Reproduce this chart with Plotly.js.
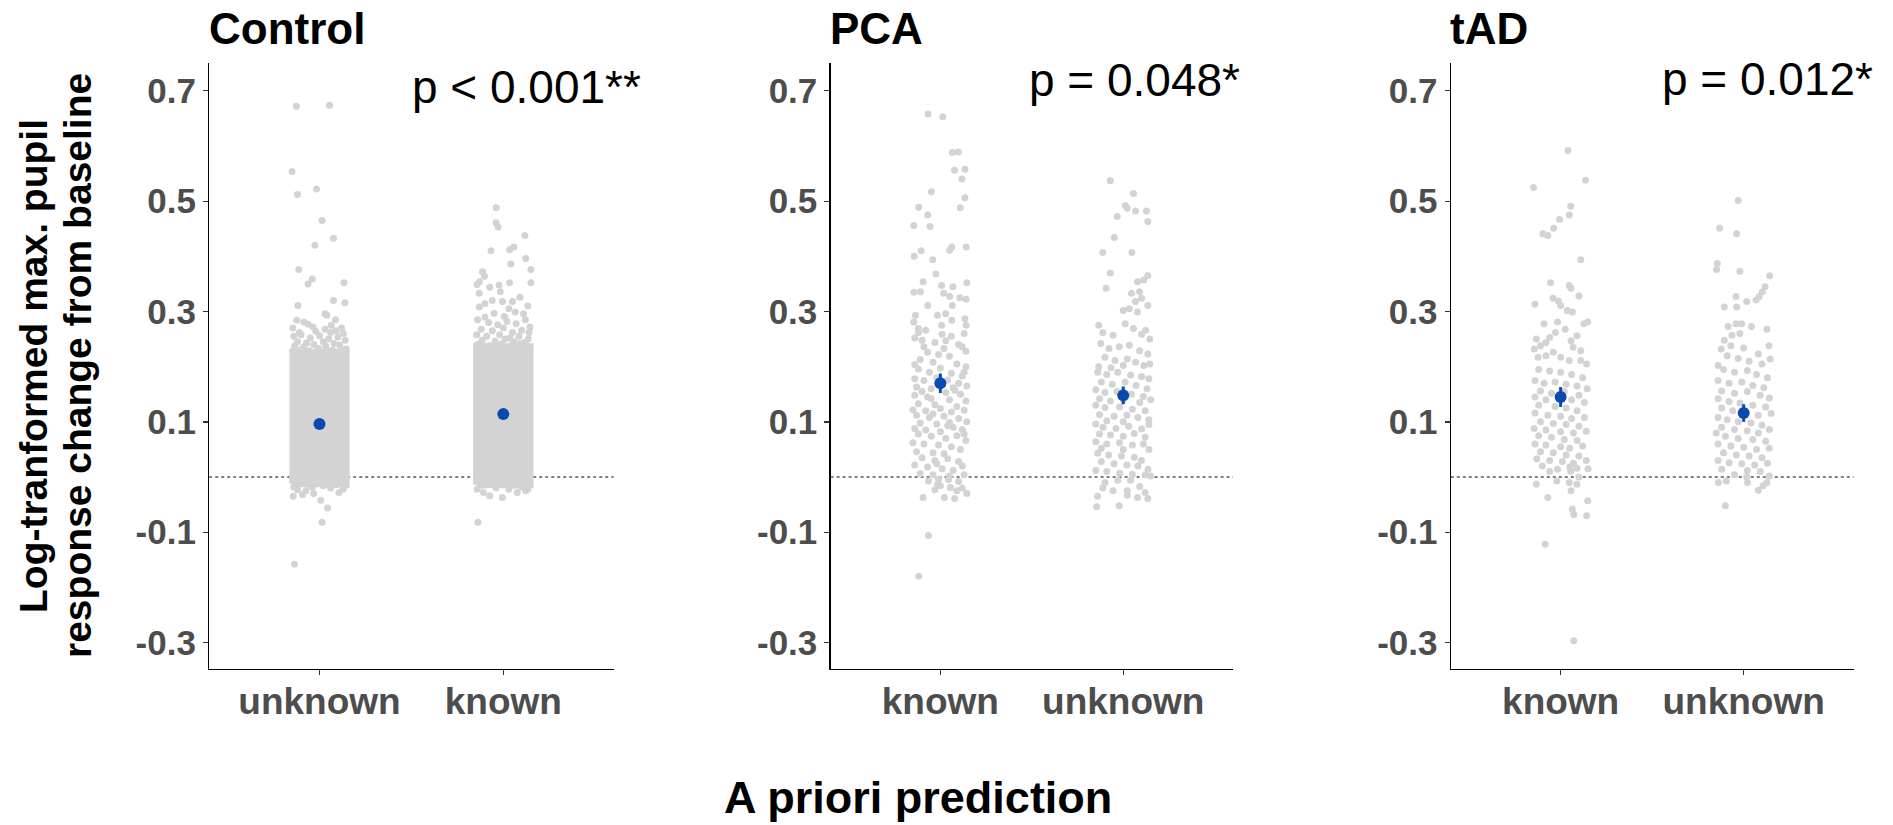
<!DOCTYPE html>
<html>
<head>
<meta charset="utf-8">
<script src="https://cdn.plot.ly/plotly-3.0.1.min.js"></script>
<style>
html,body{margin:0;padding:0;background:#fff;overflow:hidden;}
#chart{width:1893px;height:825px;}
</style>
</head>
<body>
<div id="chart"></div>
<script>
// ---------- DATA ----------
const panelTitles = ['Control', 'PCA', 'tAD'];
const pLabels = ['p < 0.001**', 'p = 0.048*', 'p = 0.012*'];
const controlCategories = ['unknown', 'known'];
const pcaCategories = ['known', 'unknown'];
const tadCategories = ['known', 'unknown'];
const yTickVals = [-0.3, -0.1, 0.1, 0.3, 0.5, 0.7];
const yTickText = ['-0.3', '-0.1', '0.1', '0.3', '0.5', '0.7'];
const xAxisTitle = 'A priori prediction';
const yAxisTitleLines = ['Log-tranformed max. pupil', 'response change from baseline'];

// group means and standard errors (order follows the category arrays)
const controlMeans = [0.096, 0.114];
const controlSE = [0.004, 0.004];
const pcaMeans = [0.170, 0.148];
const pcaSE = [0.0175, 0.016];
const tadMeans = [0.145, 0.116];
const tadSE = [0.018, 0.016];

// Control groups are so dense that the central mass is a solid band
const controlCoreLow = [-0.012, -0.014];
const controlCoreHigh = [0.226, 0.236];
const controlCoreJitter = 0.145;

// individual points: [jitter offset, value]
const controlUnknownPts = [[-0.126,0.672],[0.055,0.674],[-0.149,0.554],[-0.12,0.512],[-0.016,0.522],[0.014,0.465],[0.076,0.433],[-0.025,0.42],[-0.113,0.376],[-0.039,0.359],[-0.062,0.35],[0.133,0.352],[0.076,0.32],[0.138,0.316],[-0.117,0.311],[0.04,0.293],[0.03,0.296],[-0.124,0.284],[-0.085,0.281],[-0.062,0.277],[0.087,0.285],[0.064,0.275],[-0.145,0.27],[0.03,0.268],[0.12,0.27],[-0.02,0.264],[-0.14,0.255],[-0.1,0.258],[-0.05,0.252],[0.0,0.256],[0.05,0.25],[0.1,0.254],[0.14,0.248],[-0.12,0.245],[-0.07,0.243],[0.08,0.242],[0.13,0.26],[0.02,0.245],[-0.135,0.238],[-0.085,0.236],[-0.03,0.24],[0.035,0.237],[0.11,0.239],[0.145,0.232],[-0.11,0.262],[0.06,0.262],[-0.145,0.228],[-0.1,0.231],[-0.055,0.229],[-0.005,0.233],[0.07,0.23],[0.125,0.228],[0.09,0.265],[-0.035,0.272],[-0.143,-0.035],[-0.092,-0.032],[-0.032,-0.03],[0.007,-0.042],[0.044,-0.056],[0.014,-0.082],[-0.136,-0.158],[0.106,-0.028],[0.129,-0.022],[-0.074,-0.025],[-0.12,-0.023],[-0.04,-0.018],[0.06,-0.02],[0.145,-0.015],[-0.14,-0.018],[0.09,-0.014],[-0.1,-0.012],[0.02,-0.016]];
const controlKnownPts = [[-0.039,0.488],[-0.039,0.461],[-0.028,0.453],[0.117,0.438],[0.057,0.417],[0.034,0.412],[-0.067,0.41],[0.122,0.396],[0.041,0.386],[0.15,0.376],[-0.113,0.372],[-0.103,0.364],[-0.143,0.349],[-0.13,0.354],[-0.023,0.348],[0.034,0.352],[0.15,0.352],[-0.074,0.344],[-0.131,0.333],[-0.016,0.336],[-0.06,0.32],[-0.005,0.318],[0.05,0.318],[0.09,0.326],[0.133,0.31],[-0.131,0.308],[-0.1,0.314],[0.03,0.305],[0.065,0.299],[0.11,0.296],[-0.05,0.297],[-0.1,0.29],[0.006,0.291],[-0.14,0.285],[-0.08,0.28],[-0.03,0.276],[0.02,0.282],[0.07,0.278],[0.12,0.285],[0.145,0.272],[-0.12,0.268],[-0.06,0.265],[0.0,0.27],[0.05,0.262],[0.1,0.266],[-0.145,0.258],[-0.09,0.255],[-0.02,0.258],[0.035,0.252],[0.085,0.255],[0.135,0.25],[0.14,0.262],[-0.115,0.248],[-0.045,0.246],[0.01,0.25],[0.06,0.245],[0.115,0.244],[-0.14,0.24],[-0.075,0.238],[-0.01,0.241],[0.045,0.239],[0.095,0.242],[0.145,0.236],[-0.138,-0.082],[-0.143,-0.022],[-0.108,-0.028],[-0.074,-0.034],[-0.005,-0.037],[0.076,-0.028],[0.134,-0.022],[0.122,-0.025],[-0.04,-0.02],[0.03,-0.022],[0.1,-0.018],[-0.12,-0.015],[0.06,-0.015],[0.145,-0.012]];
const pcaKnownPts = [[-0.067,0.658],[0.013,0.653],[0.065,0.588],[0.098,0.589],[0.078,0.556],[0.134,0.558],[0.118,0.54],[-0.049,0.517],[0.134,0.506],[-0.118,0.489],[0.109,0.488],[-0.069,0.475],[-0.145,0.456],[-0.056,0.454],[0.141,0.417],[0.063,0.417],[0.051,0.411],[-0.105,0.41],[-0.143,0.4],[-0.042,0.394],[-0.025,0.368],[0.145,0.352],[0.069,0.345],[0.007,0.347],[-0.094,0.354],[-0.145,0.335],[-0.109,0.336],[0.018,0.333],[0.051,0.327],[0.107,0.325],[0.141,0.322],[-0.069,0.311],[-0.016,0.293],[0.029,0.296],[0.065,0.311],[-0.136,0.293],[-0.145,0.281],[-0.12,0.269],[0.134,0.287],[0.141,0.275],[0.007,0.275],[0.063,0.284],
[-0.12,0.262],[-0.08,0.266],[0.01,0.259],[0.06,0.255],[0.13,0.26],[-0.1,0.248],[-0.03,0.244],[0.03,0.247],[0.1,0.24],[-0.14,0.252],[0.14,0.228],[-0.07,0.226],[-0.01,0.222],[0.05,0.219],[-0.11,0.213],[-0.04,0.208],[0.09,0.205],[0.14,0.2],[-0.14,0.204],[0.02,0.233],[0.12,0.236],[-0.09,0.236],
[-0.12,0.196],[-0.06,0.19],[0.0,0.197],[0.06,0.188],[0.12,0.183],[-0.14,0.178],[-0.09,0.175],[-0.02,0.18],[0.04,0.176],[0.1,0.17],[0.145,0.165],[-0.13,0.163],[-0.05,0.16],[0.07,0.162],[0.13,0.19],
[-0.1,0.155],[-0.14,0.148],[0.03,0.153],[0.11,0.15],[-0.07,0.145],[0.05,0.14],[0.14,0.138],[-0.12,0.133],[-0.03,0.131],[0.09,0.128],[-0.15,0.122],[-0.08,0.12],[0.0,0.124],[0.06,0.118],[0.13,0.121],[-0.05,0.142],[0.08,0.157],
[-0.13,0.112],[-0.06,0.108],[0.02,0.11],[0.1,0.106],[0.145,0.1],[-0.11,0.098],[-0.02,0.096],[0.05,0.099],[-0.14,0.088],[-0.08,0.085],[0.0,0.082],[0.07,0.09],[0.12,0.086],[-0.04,0.114],[0.04,0.093],
[-0.12,0.078],[-0.05,0.074],[0.03,0.07],[0.09,0.075],[0.14,0.066],[-0.15,0.062],[-0.09,0.06],[-0.01,0.058],[0.06,0.055],[0.11,0.05],[-0.13,0.046],[-0.04,0.044],[0.02,0.042],[0.13,0.078],
[-0.1,0.035],[-0.03,0.03],[0.04,0.033],[0.1,0.028],[-0.14,0.022],[-0.07,0.018],[0.01,0.015],[0.07,0.012],[0.12,0.02],[-0.11,0.006],[-0.04,0.004],[0.05,0.002],[0.13,0.004],[-0.02,0.024],
[-0.065,-0.007],[-0.01,-0.004],[0.045,-0.005],[0.1,-0.008],[-0.015,-0.013],[0.055,-0.019],[0.12,-0.02],[0.145,-0.03],[-0.03,-0.023],[0.09,-0.025],[-0.094,-0.037],[0.022,-0.037],[0.078,-0.039],[0.0,-0.016],[-0.065,-0.106],[-0.118,-0.18]];
const pcaUnknownPts = [[-0.071,0.537],[0.056,0.514],[0.022,0.487],[0.011,0.492],[0.067,0.482],[0.127,0.482],[-0.033,0.472],[0.134,0.463],[-0.049,0.434],[-0.112,0.407],[0.047,0.407],[-0.071,0.37],[0.134,0.365],[0.112,0.357],[0.078,0.354],[-0.094,0.342],[0.089,0.336],[0.045,0.333],[0.1,0.324],[0.067,0.318],[0.134,0.311],[0.0,0.302],[0.033,0.305],[0.078,0.299],[-0.134,0.275],[0.011,0.278],[0.056,0.269],[0.123,0.266],[-0.112,0.262],[-0.056,0.257],[0.1,0.259],[0.145,0.25],
[-0.123,0.242],[-0.078,0.233],[-0.022,0.236],[0.033,0.239],[0.089,0.229],[0.134,0.223],[-0.1,0.217],[-0.045,0.211],[0.022,0.214],[0.067,0.208],[0.145,0.205],[-0.134,0.2],[-0.067,0.198],[0.0,0.202],[0.112,0.202],
[-0.14,0.19],[-0.09,0.186],[-0.03,0.19],[0.04,0.185],[0.1,0.182],[0.14,0.178],[-0.12,0.172],[-0.06,0.168],[0.01,0.172],[0.07,0.166],[0.13,0.16],[-0.15,0.158],[-0.1,0.153],[-0.035,0.155],[0.045,0.15],[0.11,0.146],[-0.13,0.142],[-0.07,0.138],[0.0,0.14],[0.09,0.135],[0.15,0.14],
[-0.15,0.13],[-0.1,0.126],[-0.02,0.127],[0.05,0.123],[0.12,0.12],[-0.13,0.113],[-0.05,0.11],[0.02,0.112],[0.08,0.108],[0.14,0.104],[-0.09,0.102],[0.0,0.1],
[-0.15,0.096],[-0.11,0.09],[-0.04,0.088],[0.03,0.092],[0.1,0.087],[0.14,0.095],[-0.13,0.078],[-0.07,0.076],[0.0,0.074],[0.06,0.079],[0.12,0.072],[-0.15,0.064],[-0.09,0.06],[-0.02,0.062],[0.05,0.058],[0.11,0.06],[0.14,0.05],[-0.12,0.052],[0.0,0.05],
[-0.14,0.043],[-0.08,0.04],[-0.01,0.038],[0.06,0.036],[0.1,0.03],[-0.12,0.028],[-0.05,0.024],[0.02,0.022],[0.08,0.02],[0.135,0.014],[-0.15,0.012],[-0.09,0.01],[-0.02,0.007],[0.05,0.005],[0.12,0.004],[0.15,0.002],
[-0.1,-0.01],[-0.03,-0.006],[0.04,-0.006],[0.09,-0.017],[-0.112,-0.02],[-0.056,-0.025],[0.022,-0.033],[0.078,-0.037],[0.134,-0.039],[0.022,-0.025],[-0.145,-0.054],[-0.022,-0.052],[-0.14,-0.035],[0.12,-0.028]];
const tadKnownPts = [[0.04,0.592],[-0.148,0.525],[0.136,0.538],[0.055,0.491],[0.047,0.475],[-0.006,0.467],[-0.038,0.451],[-0.097,0.441],[-0.07,0.438],[0.11,0.394],[-0.055,0.352],[0.047,0.347],[0.057,0.342],[0.1,0.328],[-0.14,0.313],[-0.042,0.324],[-0.013,0.319],[0.0,0.311],[0.036,0.302],[0.064,0.299],[0.148,0.281],[0.127,0.278],[-0.091,0.278],[-0.017,0.281],
[0.025,0.268],[-0.028,0.262],[0.089,0.256],[-0.06,0.253],[-0.133,0.25],[-0.11,0.238],[-0.08,0.244],[0.057,0.247],[0.068,0.235],[0.11,0.229],[-0.144,0.232],[-0.04,0.226],[0.0,0.217],[0.047,0.211],[0.11,0.211],[0.142,0.205],[-0.123,0.217],[-0.08,0.22],
[-0.12,0.195],[-0.06,0.192],[0.0,0.19],[0.06,0.186],[0.12,0.18],[-0.14,0.175],[-0.09,0.17],[-0.03,0.172],[0.03,0.168],[0.09,0.165],[0.145,0.16],[-0.11,0.156],[-0.05,0.152],[0.02,0.155],[0.1,0.148],[-0.14,0.145],[-0.08,0.14],[0.06,0.14],[0.13,0.135],
[-0.12,0.13],[-0.03,0.128],[0.03,0.125],[0.09,0.12],[-0.14,0.116],[-0.07,0.112],[0.0,0.11],[0.06,0.106],[0.13,0.108],[-0.11,0.1],[-0.04,0.097],[0.03,0.095],[0.1,0.092],[-0.145,0.088],[-0.08,0.085],[0.0,0.082],[0.07,0.08],[0.14,0.083],
[-0.12,0.075],[-0.05,0.072],[0.02,0.068],[0.09,0.066],[-0.14,0.06],[-0.08,0.058],[0.0,0.055],[0.05,0.052],[0.12,0.056],[-0.11,0.046],[-0.04,0.044],[0.03,0.04],[0.1,0.038],[-0.13,0.033],[-0.06,0.03],[0.01,0.028],[0.07,0.025],[0.14,0.03],[-0.1,0.02],[0.05,0.018],
[-0.06,0.01],[0.055,0.01],[0.15,0.015],[-0.017,0.014],[0.089,0.016],[-0.133,-0.013],[-0.07,-0.037],[-0.021,-0.007],[0.047,-0.01],[0.089,-0.013],[0.1,0.0],[0.057,-0.025],[0.148,-0.043],[0.064,-0.058],[0.072,-0.068],[0.142,-0.07],[-0.085,-0.122],[0.072,-0.297]];
const tadUnknownPts = [[-0.03,0.501],[-0.131,0.451],[-0.038,0.441],[-0.144,0.387],[-0.148,0.376],[-0.021,0.373],[0.142,0.365],[0.117,0.345],[0.102,0.336],[0.085,0.327],[-0.042,0.327],[-0.106,0.308],[0.017,0.318],[0.068,0.321],[-0.038,0.308],[-0.085,0.273],[-0.042,0.278],[-0.011,0.278],[0.042,0.273],[0.127,0.268],[-0.106,0.248],[-0.064,0.257],[-0.021,0.26],
[-0.123,0.232],[-0.07,0.238],[0.0,0.234],[0.138,0.238],[0.08,0.223],[-0.09,0.22],[-0.03,0.215],[0.03,0.21],[0.1,0.205],[-0.14,0.202],[0.145,0.214],
[-0.11,0.195],[-0.05,0.19],[0.02,0.193],[0.07,0.186],[0.13,0.18],[-0.14,0.175],[-0.08,0.17],[-0.01,0.172],[0.05,0.166],[0.11,0.162],[-0.12,0.156],[-0.05,0.152],[0.02,0.155],[0.09,0.148],[0.14,0.143],[-0.14,0.142],[-0.08,0.137],
[-0.02,0.134],[0.05,0.13],[0.12,0.127],[-0.12,0.125],[-0.06,0.12],[0.0,0.118],[0.08,0.112],[0.15,0.115],[-0.14,0.108],[-0.09,0.104],[-0.03,0.1],[0.04,0.098],[0.1,0.094],[-0.12,0.09],[-0.05,0.086],[0.02,0.084],[0.08,0.08],[0.14,0.086],[-0.15,0.08],
[-0.1,0.074],[-0.03,0.07],[0.05,0.068],[0.12,0.065],[-0.14,0.06],[-0.07,0.056],[0.0,0.054],[0.07,0.05],[0.14,0.052],[-0.11,0.044],[-0.04,0.04],[0.03,0.038],[0.1,0.035],[-0.14,0.03],[-0.08,0.026],[-0.01,0.024],[0.06,0.022],[0.13,0.025],[-0.12,0.014],[0.02,0.012],[0.09,0.01],
[-0.138,-0.01],[-0.095,-0.007],[0.021,-0.01],[0.08,-0.024],[0.106,-0.016],[0.127,-0.01],[0.017,0.0],[-0.1,-0.052],[-0.05,0.004],[0.14,0.002]];

// ---------- STYLE ----------
const GRAY = '#D3D3D3';
const BLUE = '#0A4AAE';
const FONT = '"Liberation Sans", Arial, Helvetica, sans-serif';
const W = 1893, H = 825;
const px = v => v / W;
const py = v => (H - v) / H;

const xDomains = [[px(209.2), px(613.6)], [px(830.6), px(1233)], [px(1450.8), px(1853.5)]];
const yDomain = [py(669), py(62.7)];

const traces = [];
function sfx(i) { return i === 1 ? '' : String(i); }
function addGroup(axisIdx, catIndex, pts) {
  traces.push({
    type: 'scatter', mode: 'markers', xaxis: 'x' + sfx(axisIdx), yaxis: 'y' + sfx(axisIdx),
    x: pts.map(p => catIndex + p[0]), y: pts.map(p => p[1]),
    marker: {color: GRAY, size: 7, line: {width: 0}},
    hoverinfo: 'skip', showlegend: false
  });
}
function addCore(axisIdx, catIndex, low, high, half) {
  traces.push({
    type: 'scatter', mode: 'lines', xaxis: 'x' + sfx(axisIdx), yaxis: 'y' + sfx(axisIdx),
    x: [catIndex - half, catIndex + half, catIndex + half, catIndex - half, catIndex - half],
    y: [low, low, high, high, low],
    fill: 'toself', fillcolor: GRAY, line: {color: GRAY, width: 7},
    hoverinfo: 'skip', showlegend: false
  });
}
function addMeans(axisIdx, means, se) {
  traces.push({
    type: 'scatter', mode: 'markers', xaxis: 'x' + sfx(axisIdx), yaxis: 'y' + sfx(axisIdx),
    x: means.map((m, i) => i + 1), y: means,
    error_y: {type: 'data', array: se, visible: true, color: BLUE, thickness: 3, width: 0},
    marker: {color: BLUE, size: 12},
    hoverinfo: 'skip', showlegend: false
  });
}

addCore(1, 1, controlCoreLow[0], controlCoreHigh[0], controlCoreJitter);
addCore(1, 2, controlCoreLow[1], controlCoreHigh[1], controlCoreJitter);
addGroup(1, 1, controlUnknownPts);
addGroup(1, 2, controlKnownPts);
addMeans(1, controlMeans, controlSE);
addGroup(2, 1, pcaKnownPts);
addGroup(2, 2, pcaUnknownPts);
addMeans(2, pcaMeans, pcaSE);
addGroup(3, 1, tadKnownPts);
addGroup(3, 2, tadUnknownPts);
addMeans(3, tadMeans, tadSE);

const tickFontY = {family: FONT, size: 35, color: '#4D4D4D', weight: 700};
const tickFontX = {family: FONT, size: 37, color: '#4D4D4D', weight: 700};

function xAxis(i, cats) {
  return {
    domain: xDomains[i], range: [0.4, 2.6], anchor: 'y' + sfx(i + 1),
    tickmode: 'array', tickvals: [1, 2], ticktext: cats,
    showline: true, linecolor: '#000', linewidth: 1.3,
    ticks: 'outside', ticklen: 5, tickwidth: 1.3, tickcolor: '#333',
    ticklabelstandoff: -6,
    showgrid: false, zeroline: false, tickfont: tickFontX, fixedrange: true
  };
}
function yAxis(i) {
  return {
    domain: yDomain, range: [-0.348, 0.751], anchor: 'x' + sfx(i + 1),
    tickmode: 'array', tickvals: yTickVals, ticktext: yTickText,
    showline: true, linecolor: '#000', linewidth: 1.3,
    ticks: 'outside', ticklen: 5, tickwidth: 1.3, tickcolor: '#333',
    showgrid: false, zeroline: false, tickfont: tickFontY, fixedrange: true
  };
}

const annotations = [];
const titleX = [207, 828, 1448];
panelTitles.forEach((t, i) => {
  annotations.push({
    xref: 'paper', yref: 'paper', x: px(titleX[i]), y: py(28.5),
    xanchor: 'left', yanchor: 'middle', showarrow: false, text: t,
    font: {family: FONT, size: 44, color: '#000', weight: 700}
  });
});
const pRight = [643, 1242, 1875];
const pMid = [87, 80, 79.5];
pLabels.forEach((t, i) => {
  annotations.push({
    xref: 'paper', yref: 'paper', x: px(pRight[i]), y: py(pMid[i]),
    xanchor: 'right', yanchor: 'middle', showarrow: false, text: t,
    font: {family: FONT, size: 46, color: '#000'}
  });
});
annotations.push({
  xref: 'paper', yref: 'paper', x: px(918), y: 0,
  xanchor: 'center', yanchor: 'bottom', showarrow: false, text: xAxisTitle,
  font: {family: FONT, size: 45, color: '#000', weight: 700}
});
const yTitleX = [33, 77];
yAxisTitleLines.forEach((t, i) => {
  annotations.push({
    xref: 'paper', yref: 'paper', x: px(yTitleX[i]), y: py(366),
    xanchor: 'center', yanchor: 'middle', showarrow: false, textangle: -90, text: t,
    font: {family: FONT, size: 39, color: '#000', weight: 700}
  });
});

const shapes = [0, 1, 2].map(i => ({
  type: 'line', xref: 'x' + sfx(i + 1) + ' domain', yref: 'y' + sfx(i + 1),
  x0: 0, x1: 1, y0: 0, y1: 0, layer: 'below',
  line: {color: '#000', width: 1.2, dash: 'dot'}
}));

const layout = {
  width: W, height: H, autosize: false,
  margin: {l: 0, r: 0, t: 0, b: 0},
  paper_bgcolor: '#fff', plot_bgcolor: 'rgba(0,0,0,0)',
  showlegend: false,
  xaxis: xAxis(0, controlCategories), yaxis: yAxis(0),
  xaxis2: xAxis(1, pcaCategories), yaxis2: yAxis(1),
  xaxis3: xAxis(2, tadCategories), yaxis3: yAxis(2),
  annotations: annotations, shapes: shapes
};

Plotly.newPlot('chart', traces, layout, {staticPlot: true, displayModeBar: false});
</script>
</body>
</html>
